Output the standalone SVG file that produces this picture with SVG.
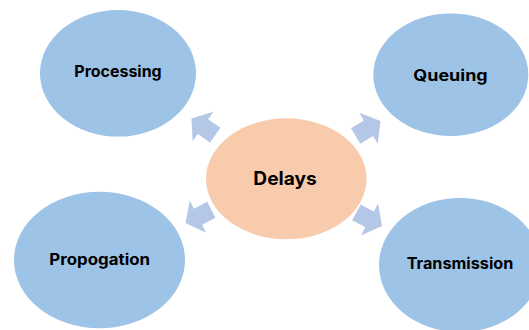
<svg xmlns="http://www.w3.org/2000/svg" width="529" height="330" viewBox="0 0 529 330">
  <style>
    .leaf { fill: #9DC3E6; }
    .hub { fill: #F8CBAD; }
    .arrow { fill: #B4C7E7; }
    .label { font-family: Inter, "Open Sans", "Liberation Sans", sans-serif; font-weight: 700; fill: #000; text-anchor: middle; }
    .small { font-size: 15.5px; }
    .big { font-size: 18.5px; }
  </style>
  <defs>
    <!-- block arrow, tip at origin pointing along +x -->
    <polygon id="blockArrow" class="arrow" points="0,0 -14,-18 -14,-9 -29,-9 -29,9 -14,9 -14,18"/>
  </defs>

  <rect width="529" height="330" fill="#FFFFFF"/>

  <g id="connectors">
    <use href="#blockArrow" transform="translate(191.5,118.5) rotate(215)"/>
    <use href="#blockArrow" transform="translate(380.5,121) rotate(-31)"/>
    <use href="#blockArrow" transform="translate(185.5,223) rotate(153)"/>
    <use href="#blockArrow" transform="translate(382,226) rotate(28)"/>
  </g>

  <g id="processing">
    <ellipse class="leaf" cx="118" cy="73.3" rx="78" ry="63.3"/>
    <text class="label small" x="118" y="77.3" textLength="87.4" lengthAdjust="spacingAndGlyphs">Processing</text>
  </g>

  <g id="queuing">
    <ellipse class="leaf" cx="450.8" cy="74.7" rx="77.5" ry="61.3"/>
    <text class="label small" x="450.5" y="81" textLength="74.3" lengthAdjust="spacingAndGlyphs">Queuing</text>
  </g>

  <g id="delays">
    <ellipse class="hub" cx="286.3" cy="178.8" rx="80.3" ry="60.5"/>
    <text class="label big" x="285" y="185" textLength="63.3" lengthAdjust="spacingAndGlyphs">Delays</text>
  </g>

  <g id="propogation">
    <ellipse class="leaf" cx="99.5" cy="260" rx="85.5" ry="68.3"/>
    <text class="label small" x="99.7" y="265" textLength="100.7" lengthAdjust="spacingAndGlyphs">Propogation</text>
  </g>

  <g id="transmission">
    <ellipse class="leaf" cx="460" cy="265" rx="81" ry="67"/>
    <text class="label small" x="460" y="269.3" textLength="106.7" lengthAdjust="spacingAndGlyphs">Transmission</text>
  </g>
</svg>
